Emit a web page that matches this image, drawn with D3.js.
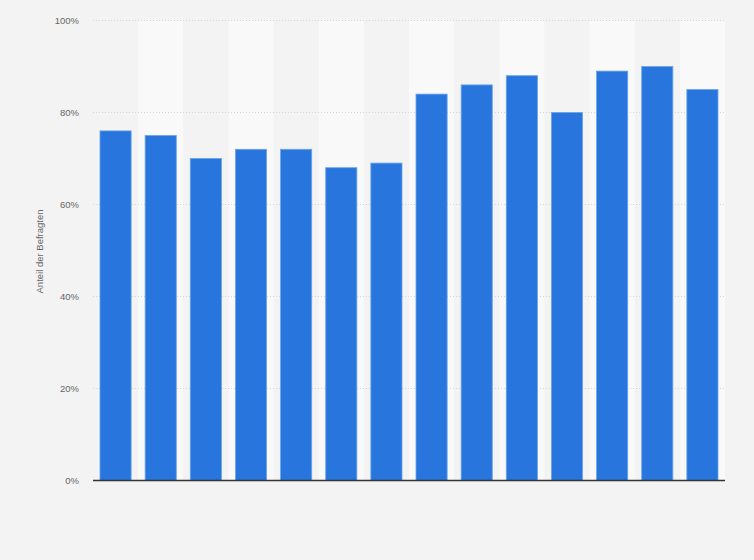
<!DOCTYPE html>
<html>
<head>
<meta charset="utf-8">
<script src="https://cdn.jsdelivr.net/npm/d3@7"></script>
<style>
  html, body { margin: 0; padding: 0; background: #f3f3f3; }
  svg { display: block; font-family: "Liberation Sans", Arial, sans-serif; }
</style>
</head>
<body>
<svg id="chart" width="754" height="560"></svg>
<script>
// one bar per survey group (no category labels shown in the chart)
const categories = ["1", "2", "3", "4", "5", "6", "7", "8", "9", "10", "11", "12", "13", "14"];
const shares = [76, 75, 70, 72, 72, 68, 69, 84, 86, 88, 80, 89, 90, 85];
const yTicks = [0, 20, 40, 60, 80, 100];
const yTitle = "Anteil der Befragten";

var width = 754,
    height = 560,
    margin = {top: 20.5, right: 29, bottom: 79.5, left: 93};

var svg = d3.select("#chart");

var x = d3.scaleBand()
    .domain(categories)
    .range([margin.left, width - margin.right])
    .paddingInner(0.31)
    .paddingOuter(0.155);

var y = d3.scaleLinear()
    .domain([0, 100])
    .range([height - margin.bottom, margin.top]);

var step = x.step();

//alternating column shading
svg.append("g")
    .selectAll("rect")
    .data(categories.filter(function(d, i) { return i % 2 === 1; }))
    .enter().append("rect")
    .attr("x", function(d) { return x(d) - x.paddingInner() * step / 2; })
    .attr("y", y(100))
    .attr("width", step)
    .attr("height", y(0) - y(100))
    .attr("fill", "#f9f9f9");

//grid lines
svg.append("g")
    .selectAll("line")
    .data(yTicks.filter(function(d) { return d > 0; }))
    .enter().append("line")
    .attr("x1", margin.left)
    .attr("x2", width - margin.right)
    .attr("y1", function(d) { return y(d); })
    .attr("y2", function(d) { return y(d); })
    .attr("stroke", "#d6d6d6")
    .attr("stroke-width", 1)
    .attr("stroke-dasharray", "1,2");

//y axis tick labels
var yAxis = d3.axisLeft(y)
    .tickValues(yTicks)
    .tickSize(0)
    .tickPadding(14)
    .tickFormat(function(d) { return d + "%"; });

var gy = svg.append("g")
    .attr("transform", "translate(" + margin.left + ",0)")
    .call(yAxis);
gy.select(".domain").remove();
gy.selectAll("text")
    .attr("fill", "#666")
    .style("font-size", "9.5px")
    .attr("dy", "0.35em");

//bars
svg.append("g")
    .selectAll("rect")
    .data(shares)
    .enter().append("rect")
    .attr("x", function(d, i) { return x(categories[i]); })
    .attr("y", function(d) { return y(d); })
    .attr("width", x.bandwidth())
    .attr("height", function(d) { return y(0) - y(d); })
    .attr("fill", "#2876dd")
    .attr("stroke", "#6aa3ec")
    .attr("stroke-width", 0.8);

//baseline
svg.append("line")
    .attr("x1", margin.left)
    .attr("x2", width - margin.right)
    .attr("y1", y(0))
    .attr("y2", y(0))
    .attr("stroke", "#333")
    .attr("stroke-width", 1.5);

//y axis title
svg.append("text")
    .attr("transform", "translate(43," + (y(50) + 1) + ") rotate(-90)")
    .attr("text-anchor", "middle")
    .attr("fill", "#666")
    .style("font-size", "9.5px")
    .text(yTitle);
</script>
</body>
</html>
